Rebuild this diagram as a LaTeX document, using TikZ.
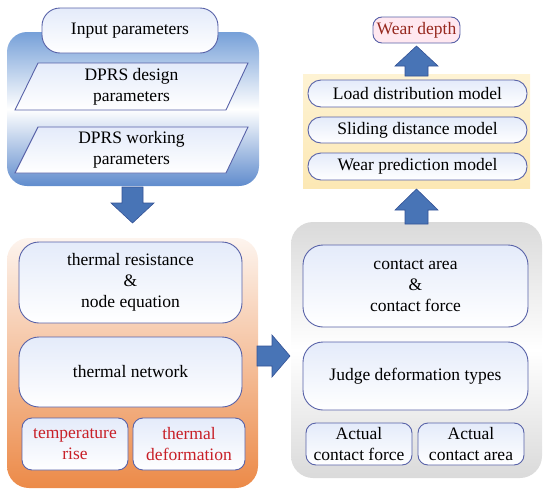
\documentclass[tikz,border=0pt]{standalone}
\usepackage{fontspec}
\setmainfont{Liberation Serif}
\definecolor{boxline}{RGB}{88,98,168}
\definecolor{nodetop}{RGB}{228,235,250}
\definecolor{arrowfill}{RGB}{72,116,182}
\definecolor{arrowline}{RGB}{52,82,150}
\definecolor{bluetop}{RGB}{118,160,216}
\definecolor{bluebot}{RGB}{96,140,205}
\definecolor{orangetop}{RGB}{253,244,238}
\definecolor{orangebot}{RGB}{236,138,72}
\definecolor{grayedge}{RGB}{218,218,218}
\definecolor{yeltop}{RGB}{254,243,212}
\definecolor{yelbot}{RGB}{252,232,180}
\definecolor{redtext}{RGB}{200,32,40}
\definecolor{weartext}{RGB}{150,40,30}
\definecolor{pinkfill}{RGB}{255,232,240}
\tikzset{
  txt/.style={align=center, inner sep=0pt, font=\fontsize{17.5}{21}\selectfont},
  rbox/.style={txt, draw=boxline, line width=0.9pt, top color=nodetop, bottom color=white},
  container/.style={draw=none, inner sep=0pt},
  blockarrow/.style={fill=arrowfill, draw=arrowline, line width=0.6pt, line join=miter},
  para/.style={draw=boxline, line width=0.9pt, top color=nodetop, bottom color=white},
}
\begin{document}
\begin{tikzpicture}[x=1pt,y=-1pt]
\useasboundingbox (0,0) rectangle (550,493);
% containers
\node[container, rounded corners=20pt, minimum width=252pt, minimum height=154pt,
  top color=bluetop, bottom color=bluebot, middle color=white] (blue) at (133,109) {};
\node[container, rounded corners=22pt, minimum width=251pt, minimum height=250pt,
  top color=orangetop, bottom color=orangebot] (orange) at (132.5,363) {};
\node[container, rounded corners=22pt, minimum width=251pt, minimum height=256pt,
  top color=grayedge, bottom color=grayedge, middle color=white] (gray) at (416.5,350) {};
\node[container, minimum width=227pt, minimum height=114pt,
  top color=yeltop, bottom color=yelbot] (yellow) at (416.5,131) {};
% blue part
\node[rbox, rounded corners=18pt, minimum width=176pt, minimum height=45pt] (inp) at (130,30.5) {Input parameters};
\draw[para] (38,63) -- (248,63) -- (226,110) -- (15,110) -- cycle;
\node[txt] (design) at (131.5,86.5) {DPRS design\\parameters};
\draw[para] (38,127) -- (248,127) -- (226,173) -- (15,173) -- cycle;
\node[txt] (working) at (131.5,150) {DPRS working\\parameters};
% orange part
\node[rbox, rounded corners=20pt, minimum width=223pt, minimum height=81pt] (tres) at (130.5,282.5) {thermal resistance\\\&\\node equation};
\node[rbox, rounded corners=20pt, minimum width=223pt, minimum height=70pt] (tnet) at (130.5,372) {thermal network};
\node[rbox, rounded corners=10pt, minimum width=106pt, minimum height=52pt, text=redtext] (trise) at (75,444) {temperature\\rise};
\node[rbox, rounded corners=10pt, minimum width=112pt, minimum height=52pt, text=redtext] (tdef) at (189,444) {thermal\\deformation};
% gray part
\node[rbox, rounded corners=20pt, minimum width=225pt, minimum height=82pt] (carea) at (415.5,286) {contact area\\\&\\contact force};
\node[rbox, rounded corners=20pt, minimum width=225pt, minimum height=68pt] (judge) at (415.5,376) {Judge deformation types};
\node[rbox, rounded corners=10pt, minimum width=106pt, minimum height=42pt] (aforce) at (359,444) {Actual\\contact force};
\node[rbox, rounded corners=10pt, minimum width=106pt, minimum height=42pt] (aarea) at (471,444) {Actual\\contact area};
% yellow part
\node[rbox, rounded corners=13pt, minimum width=219pt, minimum height=27pt] (load) at (417.5,93.5) {Load distribution model};
\node[rbox, rounded corners=13pt, minimum width=219pt, minimum height=26pt] (slide) at (417.5,130) {Sliding distance model};
\node[rbox, rounded corners=13pt, minimum width=219pt, minimum height=27pt] (pred) at (417.5,166.5) {Wear prediction model};
\node[rbox, rounded corners=9pt, minimum width=87pt, minimum height=26pt, top color=pinkfill, bottom color=pinkfill, text=weartext] (wear) at (416.5,30) {Wear depth};
% block arrows
\draw[blockarrow] (122,187) -- (143,187) -- (143,203) -- (154,203) -- (132.5,223) -- (111,203) -- (122,203) -- cycle;
\draw[blockarrow] (257,346) -- (272,346) -- (272,335) -- (290,356) -- (272,377) -- (272,366) -- (257,366) -- cycle;
\draw[blockarrow] (405,224) -- (405,210) -- (395,210) -- (416.5,189) -- (438,210) -- (428,210) -- (428,224) -- cycle;
\draw[blockarrow] (405,76) -- (405,66) -- (395,66) -- (416.5,46) -- (438,66) -- (428,66) -- (428,76) -- cycle;
\end{tikzpicture}
\end{document}
